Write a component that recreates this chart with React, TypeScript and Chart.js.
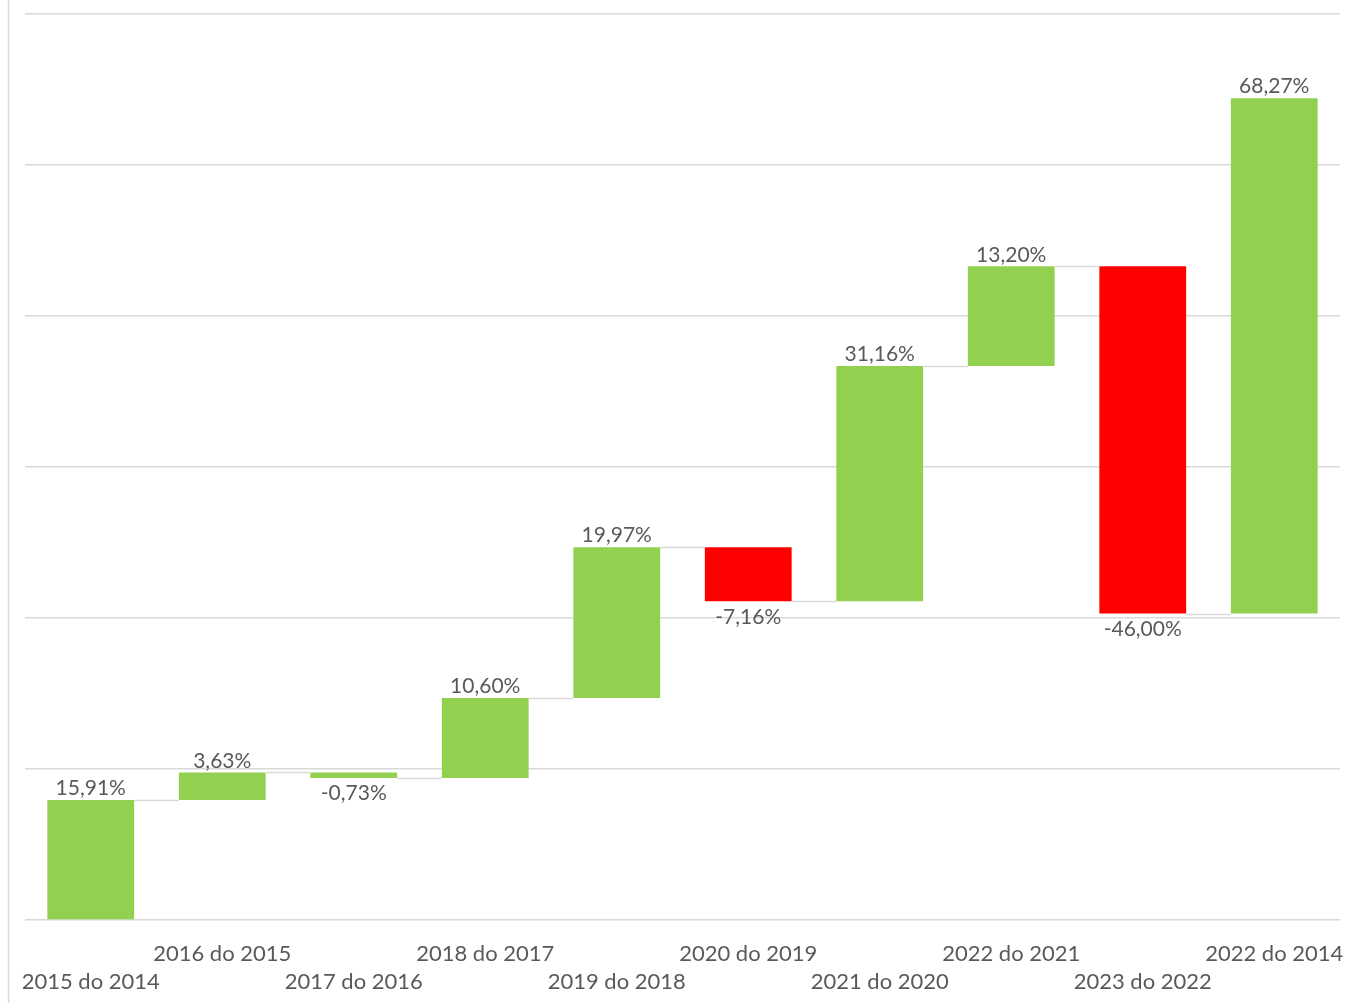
import React, { useEffect, useRef } from "react";
import { Chart, registerables } from "chart.js";

Chart.register(...registerables);

const categories = [
  "2015 do 2014",
  "2016 do 2015",
  "2017 do 2016",
  "2018 do 2017",
  "2019 do 2018",
  "2020 do 2019",
  "2021 do 2020",
  "2022 do 2021",
  "2023 do 2022",
  "2022 do 2014",
];

const changes = [15.91, 3.63, -0.73, 10.6, 19.97, -7.16, 31.16, 13.2, -46.0, 68.27];

const barColors = [
  "#92D050",
  "#92D050",
  "#92D050",
  "#92D050",
  "#92D050",
  "#FF0000",
  "#92D050",
  "#92D050",
  "#FF0000",
  "#92D050",
];

const yTicks = [0, 20, 40, 60, 80, 100, 120];

const FONT = "Lato, 'Open Sans', sans-serif";

function buildRanges(): [number, number][] {
  const out: [number, number][] = [];
  let cum = 0;
  for (const c of changes) {
    out.push([cum, cum + c]);
    cum += c;
  }
  return out;
}

export default function App() {
  const ref = useRef<HTMLCanvasElement | null>(null);

  useEffect(() => {
    if (!ref.current) return;
    const ranges = buildRanges();

    const waterfallPlugin = {
      id: "waterfallExtras",
      beforeDraw(chart: any) {
        const ctx = chart.ctx;
        ctx.save();
        ctx.strokeStyle = "#D9D9D9";
        ctx.lineWidth = 1.5;
        ctx.beginPath();
        ctx.moveTo(8.5, 0);
        ctx.lineTo(8.5, chart.height);
        ctx.stroke();
        ctx.restore();
      },
      afterDatasetsDraw(chart: any) {
        const ctx = chart.ctx;
        const meta = chart.getDatasetMeta(0);
        const y = chart.scales.y;
        ctx.save();
        // connectors
        ctx.strokeStyle = "#D9D9D9";
        ctx.lineWidth = 1.5;
        for (let i = 0; i < ranges.length - 1; i++) {
          const a = meta.data[i];
          const b = meta.data[i + 1];
          const py = Math.round(y.getPixelForValue(ranges[i][1])) + 0.5;
          ctx.beginPath();
          ctx.moveTo(a.x + a.width / 2, py);
          ctx.lineTo(b.x - b.width / 2, py);
          ctx.stroke();
        }
        // labels
        ctx.fillStyle = "#595959";
        ctx.font = `21px ${FONT}`;
        ctx.textAlign = "center";
        for (let i = 0; i < ranges.length; i++) {
          const el = meta.data[i];
          const v = changes[i];
          const txt = v.toFixed(2).replace(".", ",") + "%";
          const top = y.getPixelForValue(Math.max(ranges[i][0], ranges[i][1]));
          const bot = y.getPixelForValue(Math.min(ranges[i][0], ranges[i][1]));
          if (v >= 0) {
            ctx.textBaseline = "bottom";
            ctx.fillText(txt, el.x, top - 1);
          } else {
            ctx.textBaseline = "top";
            ctx.fillText(txt, el.x, bot + 5);
          }
        }
        ctx.restore();
      },
    };

    const chart = new Chart(ref.current, {
      type: "bar",
      data: {
        labels: categories,
        datasets: [
          {
            data: ranges as any,
            backgroundColor: barColors,
            borderWidth: 0,
            barPercentage: 0.66,
            categoryPercentage: 1,
          },
        ],
      },
      options: {
        responsive: false,
        animation: false,
        maintainAspectRatio: false,
        layout: { padding: { left: 25, right: 12, top: 14, bottom: 7 } },
        plugins: {
          legend: { display: false },
          tooltip: { enabled: false },
          title: { display: false },
        },
        scales: {
          x: {
            grid: { display: false, drawTicks: false },
            border: { display: false },
            afterFit: (scale: any) => {
              scale.height = 76;
              scale.paddingRight = 0;
              scale.paddingLeft = 0;
            },
            ticks: {
              autoSkip: false,
              maxRotation: 0,
              minRotation: 0,
              padding: 20,
              color: "#595959",
              font: { family: FONT, size: 22, lineHeight: 1.27 },
              callback: (_v: any, i: number) =>
                i % 2 === 0 ? ["", categories[i]] : [categories[i], ""],
            },
          },
          y: {
            min: yTicks[0],
            max: yTicks[yTicks.length - 1],
            afterBuildTicks: (scale: any) => {
              scale.ticks = yTicks.map((v) => ({ value: v }));
            },
            grid: { color: "#D9D9D9", lineWidth: 1.5, drawTicks: false },
            border: { display: false },
            ticks: { display: false },
          },
        },
      },
      plugins: [waterfallPlugin],
    });
    return () => chart.destroy();
  }, []);

  return (
    <div style={{ position: "absolute", left: 0, top: 0, width: 1352, height: 1003 }}>
      <canvas ref={ref} width={1352} height={1003} style={{ display: "block" }} />
    </div>
  );
}
